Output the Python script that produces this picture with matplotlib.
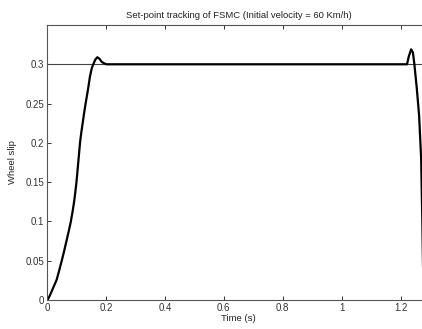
import matplotlib
matplotlib.use('Agg')
import matplotlib.pyplot as plt

plt.rcParams['font.family'] = ['Liberation Sans', 'DejaVu Sans']

# wheel slip response
time = [0.0, 0.002, 0.010, 0.017, 0.025, 0.033, 0.041, 0.05, 0.058, 0.066,
        0.074, 0.081, 0.087, 0.092, 0.096, 0.100, 0.103, 0.106, 0.109,
        0.112, 0.116, 0.121, 0.126, 0.131, 0.136, 0.140, 0.146, 0.152,
        0.157, 0.164, 0.171, 0.178, 0.186, 0.195, 0.202, 0.4, 0.8, 1.0,
        1.2, 1.222, 1.228, 1.236, 1.242, 1.247, 1.255, 1.263, 1.270,
        1.274, 1.278]
slip = [0.0, 0.0, 0.006, 0.012, 0.019, 0.026, 0.037, 0.05, 0.062, 0.075,
        0.088, 0.1, 0.113, 0.125, 0.137, 0.15, 0.162, 0.175, 0.187,
        0.2, 0.212, 0.225, 0.238, 0.25, 0.261, 0.27, 0.285, 0.295,
        0.3, 0.306, 0.309, 0.307, 0.303, 0.301, 0.3, 0.3, 0.3, 0.3,
        0.3, 0.3, 0.31, 0.319, 0.315, 0.3, 0.27, 0.235, 0.18,
        0.1, 0.0]
setpoint = 0.3

xticks = [0, 0.2, 0.4, 0.6, 0.8, 1, 1.2]
xlabels = ['0', '0.2', '0.4', '0.6', '0.8', '1', '1.2']
yticks = [0, 0.05, 0.1, 0.15, 0.2, 0.25, 0.3]
ylabels = ['0', '0.05', '0.1', '0.15', '0.2', '0.25', '0.3']

fig = plt.figure(figsize=(4.22, 3.29), dpi=100)
# axes run past the right edge like in the original screenshot
ax = fig.add_axes([47 / 422, 29 / 329, 383 / 422, 275 / 329])

ax.axhline(setpoint, color='#444444', lw=0.8)
ax.plot(time, slip, color='black', lw=1.6)

ax.set_xlim(0, 1.3)
ax.set_ylim(0, 0.35)
ax.set_xticks(xticks)
ax.set_xticklabels(xlabels)
ax.set_yticks(yticks)
ax.set_yticklabels(ylabels)
ax.tick_params(direction='in', length=3, width=0.7, labelsize=7,
               colors='#333333', top=True, right=True, pad=2)
for s in ax.spines.values():
    s.set_color('#555555')
    s.set_linewidth(0.8)

ax.set_title('Set-point tracking of FSMC (Initial velocity = 60 Km/h)',
             fontsize=6.8, color='#222222', pad=5)
ax.set_xlabel('Time (s)', fontsize=6.8, color='#222222', labelpad=1)
ax.set_ylabel('Wheel slip', fontsize=6.8, color='#222222', labelpad=6)

fig.savefig('out.png', dpi=100)
